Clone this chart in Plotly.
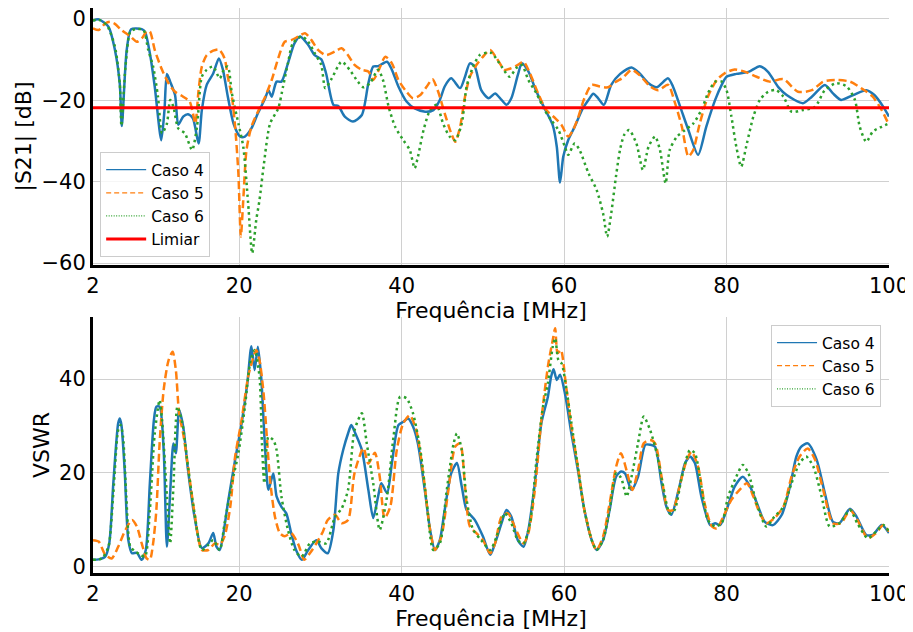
import plotly.graph_objects as go

# ---- |S21| data ----
f_s21_c4 = [2.0, 2.7, 3.9, 4.7, 5.3, 5.55, 6.15, 6.7, 8.0, 8.4,
            9.0, 9.6, 10.4, 10.8, 11.1, 11.5, 12.1, 12.5, 13.1, 13.7,
            14.3, 15.0, 15.4, 16.0, 16.8, 17.5, 18.0, 18.6, 19.3, 20.1,
            20.7, 21.5, 22.3, 23.2, 23.6, 24.0, 24.6, 25.2, 26.0, 26.8,
            27.5, 28.5, 29.3, 30.1, 30.7, 31.6, 32.2, 33.0, 34.0, 35.1,
            35.9, 36.5, 37.1, 38.2, 38.8, 39.6, 40.6, 41.6, 42.9, 43.9,
            44.7, 45.3, 46.1, 47.2, 47.8, 48.4, 49.0, 49.8, 50.7, 51.5,
            52.3, 52.9, 53.5, 54.3, 54.8, 55.6, 56.6, 57.6, 58.6, 59.1,
            59.5, 59.9, 60.5, 61.3, 62.3, 63.0, 63.6, 64.2, 64.9, 65.8,
            66.9, 68.3, 69.3, 70.4, 71.4, 72.8, 73.4, 74.3, 75.3, 76.5,
            77.5, 78.6, 79.4, 80.0, 81.2, 82.7, 84.1, 85.1, 86.4, 87.4,
            89.4, 90.5, 92.1, 93.1, 94.1, 95.6, 97.2, 98.2, 99.3, 100.0]
s21_c4 = [-0.4, -0.1, -1.9, -7.6, -16.0, -26.3, -7.6, -2.5, -2.5, -3.1,
          -8.4, -16.6, -29.8, -22.4, -13.5, -15.4, -18.7, -26.0, -24.0, -23.4,
          -24.4, -30.6, -22.4, -16.2, -13.4, -9.7, -12.5, -19.1, -25.7, -28.9,
          -28.9, -26.9, -23.2, -19.5, -17.5, -19.1, -15.4, -15.4, -10.9, -6.0,
          -4.3, -6.4, -8.9, -9.9, -13.4, -21.1, -21.4, -24.0, -25.2, -23.6,
          -15.8, -11.7, -11.6, -10.5, -12.5, -16.6, -20.3, -22.0, -22.8, -22.4,
          -19.9, -16.6, -14.6, -17.0, -14.2, -10.9, -11.7, -17.5, -19.5, -18.3,
          -19.9, -21.1, -19.5, -13.8, -10.9, -12.9, -17.9, -22.0, -26.1, -31.4,
          -40.2, -33.8, -29.8, -26.5, -22.0, -19.9, -18.4, -19.5, -21.1, -16.2,
          -13.5, -11.9, -13.4, -15.8, -16.8, -14.6, -16.6, -21.6, -27.3, -33.4,
          -26.5, -19.9, -16.2, -14.2, -13.5, -13.0, -11.6, -13.0, -16.8, -18.7,
          -20.7, -19.1, -16.2, -18.3, -19.9, -18.7, -17.5, -18.7, -21.6, -24.0]

f_s21_c5 = [2.0, 2.7, 3.5, 4.1, 4.7, 5.5, 6.6, 7.4, 8.0, 8.6,
            9.0, 9.6, 10.5, 11.3, 12.1, 13.1, 13.9, 14.3, 14.6, 15.0,
            15.4, 16.0, 16.8, 17.5, 18.2, 18.6, 19.1, 19.5, 19.9, 20.2,
            20.5, 20.9, 21.5, 22.3, 23.2, 24.0, 24.8, 25.6, 26.4, 27.3,
            28.1, 28.9, 29.7, 30.7, 31.8, 32.6, 33.4, 34.2, 35.1, 35.9,
            36.5, 37.1, 38.0, 38.8, 39.6, 40.6, 41.4, 42.3, 43.1, 43.8,
            44.5, 45.3, 46.1, 46.6, 47.2, 47.8, 48.4, 49.2, 50.0, 50.9,
            51.7, 52.7, 53.5, 54.3, 55.0, 55.8, 56.8, 57.8, 58.9, 59.7,
            60.5, 61.1, 61.7, 62.5, 63.4, 64.4, 65.4, 66.4, 67.2, 68.3,
            69.3, 70.6, 71.6, 72.8, 73.6, 74.5, 75.3, 75.9, 76.7, 77.7,
            78.8, 79.8, 81.0, 82.3, 83.7, 85.3, 87.0, 88.8, 90.5, 91.9,
            93.5, 95.2, 96.8, 98.0, 99.1, 100.0]
s21_c5 = [-2.3, -2.7, -1.1, -0.7, -1.2, -2.7, -4.3, -5.6, -4.8, -3.1,
          -3.1, -7.6, -12.5, -15.8, -17.9, -19.1, -20.3, -23.2, -25.7, -17.5,
          -11.7, -8.9, -7.8, -7.5, -9.7, -14.2, -19.1, -26.5, -38.0, -53.5,
          -44.5, -32.2, -26.5, -22.8, -19.1, -15.0, -9.7, -5.6, -5.2, -4.3,
          -3.5, -5.2, -7.6, -8.9, -8.0, -7.2, -8.9, -11.3, -12.5, -12.9,
          -15.0, -12.9, -9.3, -10.9, -15.0, -17.9, -19.5, -18.7, -16.6, -14.8,
          -17.9, -23.2, -28.1, -30.2, -26.5, -19.1, -14.2, -11.3, -9.3, -7.6,
          -9.7, -12.5, -12.1, -11.3, -10.5, -13.4, -18.3, -22.4, -24.4, -26.1,
          -28.9, -27.3, -24.4, -19.5, -16.2, -16.6, -16.8, -15.4, -14.5, -12.5,
          -13.8, -16.6, -17.5, -16.2, -20.3, -26.5, -33.8, -32.2, -25.7, -19.1,
          -15.0, -13.3, -12.4, -13.0, -14.2, -15.4, -14.8, -17.9, -17.5, -15.4,
          -15.0, -15.4, -17.3, -19.1, -22.4, -26.1]

f_s21_c6 = [2.0, 2.7, 3.7, 4.7, 5.3, 5.5, 6.0, 6.6, 7.2, 8.2,
            8.8, 9.4, 10.0, 10.5, 11.1, 11.5, 11.9, 12.5, 13.3, 14.2,
            14.8, 15.4, 16.0, 16.8, 17.6, 18.2, 18.6, 19.1, 19.9, 20.5,
            21.1, 21.6, 22.1, 22.5, 23.0, 23.8, 24.8, 25.4, 26.0, 26.6,
            27.7, 28.5, 29.3, 30.1, 30.6, 31.4, 32.6, 33.6, 34.6, 35.3,
            36.1, 37.1, 37.7, 38.4, 39.2, 40.2, 41.0, 41.6, 42.0, 42.7,
            43.5, 44.3, 45.1, 45.9, 46.6, 47.4, 48.0, 48.8, 49.6, 50.5,
            51.1, 52.3, 53.3, 54.1, 54.8, 55.6, 56.6, 57.6, 58.4, 59.3,
            60.1, 60.5, 61.3, 61.9, 63.0, 64.0, 64.8, 65.3, 65.8, 66.4,
            66.9, 67.4, 68.0, 68.9, 69.7, 70.4, 71.2, 71.8, 72.5, 73.0,
            73.9, 74.9, 75.9, 76.9, 77.7, 78.6, 79.4, 80.0, 80.6, 81.2,
            81.8, 82.5, 83.3, 84.1, 85.1, 86.1, 87.0, 88.0, 89.4, 90.9,
            92.1, 93.5, 94.8, 95.8, 96.4, 97.2, 98.0, 99.1, 100.0]
s21_c6 = [-0.4, -0.2, -1.5, -6.8, -16.0, -26.3, -11.7, -3.1, -2.5, -2.7,
          -7.6, -11.7, -19.1, -28.1, -25.7, -19.9, -21.6, -26.9, -28.1, -32.2,
          -26.5, -14.2, -12.5, -11.7, -14.6, -12.1, -11.7, -18.3, -25.7, -31.4,
          -45.3, -57.6, -49.4, -44.5, -36.3, -25.7, -22.0, -16.6, -10.9, -6.0,
          -4.3, -5.6, -8.4, -11.3, -17.0, -14.6, -10.5, -12.5, -15.4, -16.8,
          -15.8, -12.5, -15.0, -21.6, -26.5, -29.8, -32.2, -36.7, -33.9, -27.3,
          -22.4, -21.1, -25.7, -28.9, -29.8, -25.7, -16.6, -11.7, -8.9, -8.3,
          -8.4, -11.7, -14.2, -12.1, -11.3, -15.0, -18.3, -22.4, -24.8, -27.3,
          -31.4, -33.4, -30.6, -32.2, -37.9, -42.0, -47.8, -53.5, -47.8, -38.5,
          -32.0, -28.5, -27.3, -30.6, -37.1, -31.4, -28.9, -32.2, -40.4, -32.2,
          -28.9, -27.3, -25.7, -22.4, -18.3, -15.4, -15.4, -17.5, -24.0, -31.4,
          -36.3, -30.6, -24.0, -19.9, -17.9, -17.5, -19.1, -22.8, -22.4, -21.6,
          -17.5, -15.8, -16.6, -19.9, -26.5, -30.2, -27.7, -26.5, -25.7]

f_limiar = [2, 100]
limiar = [-21.8, -21.8]

# ---- VSWR data ----
f_vswr_c4 = [2.0, 2.7, 3.5, 4.0, 4.5, 5.1, 5.3, 5.5, 5.9, 6.35,
             6.8, 7.4, 8.0, 8.5, 9.0, 9.5, 9.8, 10.2, 10.7, 11.1,
             11.5, 11.9, 12.2, 12.6, 13.1, 13.7, 14.5, 15.4, 16.2, 16.8,
             17.2, 17.6, 18.0, 18.6, 19.5, 20.3, 21.0, 21.5, 21.9, 22.3,
             22.7, 23.2, 23.6, 24.2, 24.6, 25.2, 25.8, 26.4, 27.0, 27.7,
             28.5, 29.5, 30.1, 30.9, 31.6, 32.2, 32.8, 33.4, 33.8, 34.3,
             35.1, 35.9, 36.5, 37.1, 37.5, 38.2, 38.8, 39.6, 40.2, 40.8,
             41.4, 42.0, 42.9, 43.5, 44.1, 44.7, 45.3, 46.1, 46.8, 47.4,
             48.0, 49.0, 50.0, 50.9, 51.5, 52.3, 52.9, 53.5, 54.3, 55.0,
             55.6, 56.4, 57.2, 58.0, 58.4, 58.7, 59.1, 59.5, 60.1, 60.9,
             61.7, 62.5, 63.4, 64.0, 64.8, 65.6, 66.4, 67.0, 67.5, 68.3,
             69.1, 70.0, 70.6, 71.2, 72.0, 72.6, 73.2, 74.1, 74.9, 75.5,
             76.1, 76.9, 78.0, 78.6, 79.2, 80.0, 81.0, 82.0, 82.9, 83.9,
             84.7, 85.7, 86.8, 87.8, 88.6, 89.2, 90.0, 91.1, 92.1, 93.1,
             93.9, 95.2, 96.0, 97.2, 98.0, 99.1, 100.0]
vswr_c4 = [1.5, 1.6, 2.2, 5.0, 17.8, 30.6, 31.6, 30.2, 20.6, 5.7,
           2.9, 3.0, 1.5, 3.6, 17.8, 31.3, 34.1, 34.1, 24.9, 4.3,
           15.7, 26.3, 24.2, 33.4, 29.9, 20.6, 10.7, 4.0, 5.0, 7.2,
           4.3, 3.6, 6.5, 13.5, 22.8, 30.6, 39.1, 47.0, 41.9, 46.9,
           40.5, 24.9, 16.4, 19.9, 15.0, 12.8, 11.4, 7.2, 3.6, 1.5,
           3.6, 5.7, 4.0, 2.9, 7.9, 19.9, 24.9, 28.4, 30.2, 28.4,
           24.9, 16.4, 10.4, 15.0, 17.8, 15.7, 22.1, 30.2, 30.9, 31.6,
           29.9, 26.3, 15.7, 7.9, 3.6, 5.7, 12.1, 19.9, 22.1, 17.1,
           12.1, 10.0, 6.5, 2.6, 5.0, 9.3, 12.1, 10.7, 5.7, 4.3,
           7.9, 17.8, 30.6, 36.2, 40.5, 42.1, 39.8, 40.9, 37.0, 28.4,
           20.6, 12.1, 5.7, 3.6, 5.7, 12.1, 19.2, 20.3, 19.9, 16.4,
           19.2, 26.0, 26.0, 25.6, 17.8, 12.8, 11.1, 16.4, 22.1, 23.5,
           22.1, 15.0, 8.9, 9.3, 8.9, 12.1, 17.1, 19.2, 17.1, 12.8,
           9.6, 8.9, 11.1, 17.1, 23.5, 25.6, 26.3, 22.8, 15.7, 9.6,
           9.3, 12.4, 10.7, 6.8, 6.8, 8.9, 7.2]

f_vswr_c5 = [2.0, 2.7, 3.5, 4.3, 5.1, 6.0, 6.8, 7.4, 8.0, 8.6,
             9.0, 9.4, 9.8, 10.2, 10.7, 11.3, 11.8, 12.2, 12.6, 13.1,
             13.7, 14.5, 15.4, 16.2, 17.0, 17.6, 18.2, 18.9, 19.5, 20.3,
             21.1, 21.7, 22.1, 22.5, 23.0, 23.4, 23.8, 24.4, 25.0, 25.6,
             26.4, 27.3, 28.0, 28.7, 29.5, 30.3, 30.9, 31.8, 32.6, 33.4,
             34.2, 35.3, 35.9, 36.7, 37.3, 37.9, 38.6, 39.4, 40.2, 41.0,
             41.8, 42.7, 43.5, 44.1, 44.9, 45.7, 46.6, 47.2, 47.8, 48.4,
             49.2, 50.0, 50.9, 51.5, 52.3, 53.1, 53.9, 55.0, 55.6, 56.4,
             57.2, 58.0, 58.6, 58.9, 59.2, 59.6, 60.2, 60.9, 61.7, 62.5,
             63.4, 64.0, 64.8, 65.6, 66.4, 67.0, 67.7, 68.4, 69.1, 69.8,
             70.6, 71.2, 72.0, 72.8, 73.4, 74.3, 75.1, 75.7, 76.5, 77.3,
             78.2, 78.8, 79.6, 80.6, 81.6, 82.5, 83.3, 84.1, 84.9, 85.9,
             87.0, 88.0, 89.0, 90.0, 90.9, 91.9, 93.1, 94.1, 95.2, 96.1,
             97.4, 98.4, 99.3, 100.0]
vswr_c5 = [5.7, 5.4, 2.6, 1.8, 4.3, 7.9, 10.0, 8.6, 5.0, 1.8,
           1.5, 5.0, 12.1, 26.3, 37.7, 44.0, 45.8, 41.9, 32.7, 28.4,
           21.3, 11.4, 3.6, 3.6, 5.0, 4.7, 6.5, 12.8, 23.5, 31.3,
           40.5, 44.4, 46.2, 44.0, 37.0, 27.7, 18.5, 10.7, 7.2, 6.5,
           7.2, 4.7, 1.5, 2.9, 5.0, 7.5, 10.0, 11.1, 9.3, 10.0,
           20.0, 25.3, 22.0, 24.3, 19.2, 10.4, 12.8, 24.9, 30.6, 32.3,
           29.1, 19.2, 7.9, 3.6, 6.5, 15.7, 25.6, 26.3, 17.1, 8.6,
           7.2, 5.7, 2.9, 5.0, 10.7, 11.4, 8.6, 5.0, 7.2, 16.4,
           31.3, 42.6, 48.3, 50.8, 45.5, 46.2, 39.1, 29.9, 21.3, 12.1,
           5.7, 3.6, 6.5, 13.5, 21.3, 24.2, 20.5, 16.4, 20.6, 26.3,
           27.0, 26.3, 19.2, 12.1, 12.1, 17.8, 22.8, 24.5, 21.3, 13.5,
           8.6, 8.2, 10.7, 14.3, 16.4, 17.8, 15.0, 11.4, 9.3, 10.4,
           12.8, 19.2, 23.5, 25.2, 22.8, 16.4, 9.3, 9.3, 12.1, 10.0,
           6.1, 7.2, 8.9, 7.5]

f_vswr_c6 = [2.0, 3.1, 3.9, 4.5, 5.1, 5.4, 5.7, 6.1, 6.6, 7.2,
             7.8, 8.4, 9.0, 9.6, 10.2, 10.5, 11.1, 11.5, 11.9, 12.4,
             13.0, 13.7, 14.5, 15.4, 16.2, 16.8, 17.6, 18.2, 19.1, 19.9,
             20.7, 21.4, 21.9, 22.5, 22.8, 23.1, 23.6, 24.2, 24.6, 25.2,
             26.0, 26.8, 27.7, 28.7, 29.7, 30.7, 31.8, 32.6, 33.4, 34.2,
             35.1, 35.7, 36.5, 37.3, 38.2, 39.0, 39.8, 40.6, 41.4, 42.3,
             43.1, 43.9, 44.7, 45.5, 46.4, 46.8, 47.4, 48.0, 48.8, 49.8,
             50.9, 51.7, 52.7, 53.5, 54.3, 55.0, 55.8, 56.6, 57.4, 58.0,
             58.6, 58.9, 59.3, 59.7, 60.3, 60.9, 61.7, 62.5, 63.4, 64.0,
             64.8, 65.6, 66.4, 67.0, 67.7, 68.3, 69.1, 69.8, 70.6, 71.4,
             72.2, 73.0, 73.6, 74.5, 75.5, 76.1, 76.9, 77.7, 78.6, 79.4,
             80.2, 81.2, 82.0, 82.7, 83.7, 84.9, 85.9, 87.0, 88.0, 89.0,
             89.8, 90.7, 91.7, 92.7, 93.9, 95.2, 96.1, 97.4, 98.4, 99.3,
             100.0]
vswr_c6 = [1.5, 1.8, 4.3, 15.7, 29.1, 30.2, 27.7, 15.0, 4.3, 3.3,
           2.6, 2.2, 12.1, 28.4, 35.5, 31.3, 15.0, 5.0, 17.1, 34.1,
           30.6, 21.3, 11.4, 3.6, 4.7, 5.7, 3.6, 9.3, 17.8, 24.2,
           34.1, 44.0, 46.2, 40.5, 26.3, 17.8, 27.7, 27.0, 24.9, 15.0,
           7.9, 3.6, 2.2, 5.0, 5.4, 5.0, 10.7, 12.4, 16.4, 29.1,
           32.7, 26.3, 17.8, 7.9, 15.0, 27.7, 36.2, 35.9, 32.7, 24.9,
           13.5, 3.6, 5.0, 15.7, 26.3, 28.4, 24.9, 14.3, 7.9, 5.7,
           3.6, 6.5, 11.4, 9.3, 5.7, 5.0, 9.3, 22.8, 34.1, 39.1,
           46.9, 48.7, 44.0, 43.3, 37.7, 30.6, 21.3, 12.1, 5.7, 3.6,
           5.7, 12.1, 19.9, 19.0, 15.0, 19.2, 26.3, 32.0, 29.1, 24.2,
           17.1, 11.4, 12.1, 19.2, 24.9, 24.2, 17.1, 10.0, 8.6, 9.3,
           15.0, 19.2, 21.7, 19.9, 13.5, 8.6, 10.7, 12.8, 17.8, 22.1,
           23.5, 21.3, 15.0, 8.6, 9.3, 12.1, 9.3, 6.1, 7.5, 8.9,
           7.5]

x_ticks = [2, 20, 40, 60, 80, 100]

BLUE = "#1f77b4"
ORANGE = "#ff7f0e"
GREEN = "#2ca02c"
FONT = "DejaVu Sans"

styles = [("Caso 4", BLUE, "solid"), ("Caso 5", ORANGE, "8px,4px"), ("Caso 6", GREEN, "2.5px,3.5px")]
legend_dash = {"solid": "solid", "8px,4px": "5px,3px", "2.5px,3.5px": "1px,1.5px"}

fig = go.Figure()

# top panel curves
for (name, col, dash), fx, fy in zip(styles, [f_s21_c4, f_s21_c5, f_s21_c6], [s21_c4, s21_c5, s21_c6]):
    fig.add_trace(go.Scatter(x=fx, y=fy, mode="lines", name=name, showlegend=False,
                             line=dict(color=col, width=2.5, dash=dash, shape="spline", smoothing=0.7),
                             xaxis="x", yaxis="y"))
fig.add_trace(go.Scatter(x=f_limiar, y=limiar, mode="lines", name="Limiar", showlegend=False,
                         line=dict(color="red", width=3), xaxis="x", yaxis="y"))

# bottom panel curves
for (name, col, dash), fx, fy in zip(styles, [f_vswr_c4, f_vswr_c5, f_vswr_c6], [vswr_c4, vswr_c5, vswr_c6]):
    fig.add_trace(go.Scatter(x=fx, y=fy, mode="lines", name=name, showlegend=False,
                             line=dict(color=col, width=2.5, dash=dash, shape="spline", smoothing=0.7),
                             xaxis="x2", yaxis="y2"))

# legend entries (thin lines like the original legend handles)
for lg, xa, ya in [("legend", "x", "y"), ("legend2", "x2", "y2")]:
    for name, col, dash in styles:
        fig.add_trace(go.Scatter(x=[None], y=[None], mode="lines", name=name, legend=lg,
                                 line=dict(color=col, width=1.3, dash=legend_dash[dash]),
                                 xaxis=xa, yaxis=ya))
fig.add_trace(go.Scatter(x=[None], y=[None], mode="lines", name="Limiar", legend="legend",
                         line=dict(color="red", width=3), xaxis="x", yaxis="y"))

axis_common = dict(showgrid=True, gridcolor="#d0d0d0", gridwidth=1, zeroline=False,
                   showline=True, linecolor="black", linewidth=3, ticks="",
                   ticklabeloverflow="allow",
                   tickfont=dict(size=21, color="black", family=FONT), automargin=False)

# the page body adds an 8px offset, so the figure is 8px smaller than the window
fig.update_layout(
    width=905, height=624,
    plot_bgcolor="white", paper_bgcolor="white",
    margin=dict(l=85, r=24, t=0, b=59),
    font=dict(family=FONT, color="black"),
    xaxis=dict(domain=[0, 1], anchor="y", range=[2, 100], tickvals=x_ticks,
               title=dict(text="Frequência [MHz]", font=dict(size=22), standoff=1), **axis_common),
    yaxis=dict(domain=[0.545, 1], anchor="x", range=[-60.5, 2.7], tickvals=[0, -20, -40, -60],
               title=dict(text="|S21| [dB]", font=dict(size=22), standoff=4), **axis_common),
    xaxis2=dict(domain=[0, 1], anchor="y2", range=[2, 100], tickvals=x_ticks,
                title=dict(text="Frequência [MHz]", font=dict(size=22), standoff=2), **axis_common),
    yaxis2=dict(domain=[0, 0.453], anchor="x2", range=[-1.3, 53.2], tickvals=[0, 20, 40],
                title=dict(text="VSWR", font=dict(size=22), standoff=4), **axis_common),
    legend=dict(x=0.009, y=0.745, xanchor="left", yanchor="top",
                bgcolor="rgba(255,255,255,0.8)", bordercolor="#cccccc", borderwidth=1,
                font=dict(size=15.5, family=FONT), itemwidth=40, tracegroupgap=0),
    legend2=dict(x=0.99, y=0.439, xanchor="right", yanchor="top",
                 bgcolor="rgba(255,255,255,0.8)", bordercolor="#cccccc", borderwidth=1,
                 font=dict(size=15.5, family=FONT), itemwidth=40, tracegroupgap=0),
)

fig.write_html("out.html")
